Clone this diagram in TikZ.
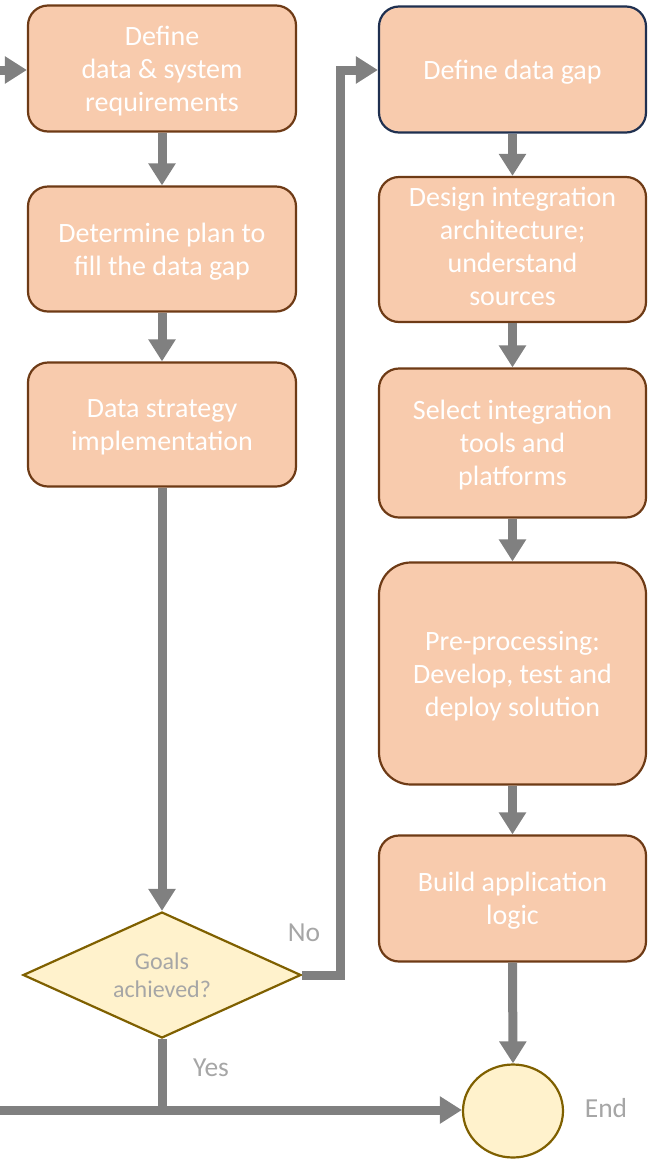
\documentclass[tikz,border=0pt]{standalone}
\usepackage{fontspec}
\setmainfont{Carlito}
\usetikzlibrary{arrows.meta,shapes.geometric}
\definecolor{boxfill}{HTML}{F8CBAD}
\definecolor{boxline}{HTML}{6E3B16}
\definecolor{navyline}{HTML}{1F3050}
\definecolor{decfill}{HTML}{FFF2CC}
\definecolor{decline}{HTML}{7F6000}
\definecolor{arrowgray}{HTML}{808080}
\definecolor{labgray}{HTML}{A6A6A6}
\newcommand{\boxlines}[2][3pt]{\raisebox{-#1}[\height][\depth]{\begin{tabular}{@{}c@{}}#2\end{tabular}}}
\tikzset{
  procbox/.style={draw=boxline, line width=2.2pt, fill=boxfill, rounded corners=20pt,
    text=white, font=\fontsize{28}{33}\selectfont, inner sep=0pt},
  flowarrow/.style={draw=arrowgray, line width=9pt, -{Triangle[length=22pt,width=26pt]}},
  flowline/.style={draw=arrowgray, line width=9pt},
  lab/.style={text=labgray, font=\fontsize{27.5}{30}\selectfont, inner sep=0pt}
}
\begin{document}
\begin{tikzpicture}[x=1pt,y=-1pt]
\useasboundingbox (0,0) rectangle (653,1160);
% left column
\node[procbox, minimum width=268pt, minimum height=126pt] (b1) at (162,68.5) {\boxlines{Define\\data \& system\\requirements}};
\node[procbox, minimum width=268pt, minimum height=125pt] (b2) at (162,249) {\boxlines{Determine plan to\\fill the data gap}};
\node[procbox, minimum width=268pt, minimum height=124pt] (b3) at (162,424.5) {\boxlines{Data strategy\\implementation}};
\node[draw=decline, line width=2.2pt, fill=decfill, diamond, aspect=2.2, minimum width=278pt, minimum height=126pt, inner sep=0pt,
  text=labgray, align=center, font=\fontsize{24}{28}\selectfont] (dec) at (162,975) {Goals\\achieved?};
% right column
\node[procbox, draw=navyline, minimum width=267pt, minimum height=126pt] (r1) at (512.5,69.5) {\boxlines{Define data gap}};
\node[procbox, minimum width=267pt, minimum height=145pt] (r2) at (512.5,249.5) {\boxlines[0pt]{Design integration\\architecture;\\understand\\sources}};
\node[procbox, minimum width=267pt, minimum height=149pt] (r3) at (512.5,443) {\boxlines{Select integration\\tools and\\platforms}};
\node[procbox, rounded corners=32pt, minimum width=267pt, minimum height=222pt] (r4) at (512.5,673.5) {\boxlines{Pre-processing:\\Develop, test and\\deploy solution}};
\node[procbox, minimum width=267pt, minimum height=126pt] (r5) at (512.5,898.5) {\boxlines{Build application\\logic}};
\node[draw=decline, line width=2.2pt, fill=decfill, ellipse, minimum width=100pt, minimum height=93pt, inner sep=0pt] (end) at (513,1111) {};
% labels
\node[lab, anchor=center] (no) at (304,933) {No};
\node[lab, anchor=center] (yes) at (211,1068) {Yes};
\node[lab, anchor=center] (endlab) at (606,1108) {End};
% coordinates
\coordinate (inL) at (0,70);
\coordinate (botL) at (0,1110);
\coordinate (jn) at (162,1110);
\coordinate (noX) at (340,975);
\coordinate (noY) at (340,70);
% connectors
\draw[flowarrow] (inL) -- (b1.west |- inL);
\draw[flowarrow] (b1.south) -- (b2.north);
\draw[flowarrow] (b2.south) -- (b3.north);
\draw[flowarrow] (b3.south) -- (dec.north);
\draw[flowarrow] (r1.south) -- (r2.north);
\draw[flowarrow] (r2.south) -- (r3.north);
\draw[flowarrow] (r3.south) -- (r4.north);
\draw[flowarrow] (r4.south) -- (r5.north);
\draw[flowarrow] (r5.south) -- (end.north);
\draw[flowarrow, line join=miter] (dec.east) -- (noX) -- (noY) -- (r1.west |- noY);
\draw[flowline] (dec.south) -- (jn);
\draw[flowarrow] (botL) -- (end.west |- botL);
\end{tikzpicture}
\end{document}
